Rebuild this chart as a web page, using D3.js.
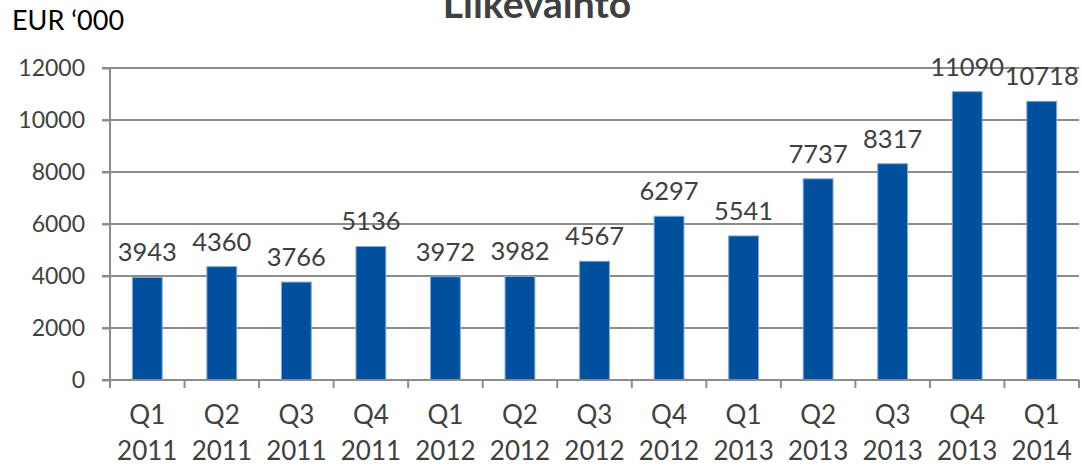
<!DOCTYPE html>
<html>
<head>
<meta charset="utf-8">
<script src="https://cdn.jsdelivr.net/npm/d3@7.9.0/dist/d3.min.js"></script>
<style>
  body { margin: 0; background: #fff; }
  svg { display: block; font-family: Lato, "Open Sans", sans-serif; }
</style>
</head>
<body>
<div id="chart"></div>
<script>
// data
const quarters = ['Q1', 'Q2', 'Q3', 'Q4', 'Q1', 'Q2', 'Q3', 'Q4', 'Q1', 'Q2', 'Q3', 'Q4', 'Q1'];
const years = ['2011', '2011', '2011', '2011', '2012', '2012', '2012', '2012', '2013', '2013', '2013', '2013', '2014'];
const revenue = [3943, 4360, 3766, 5136, 3972, 3982, 4567, 6297, 5541, 7737, 8317, 11090, 10718];
const yTicks = [0, 2000, 4000, 6000, 8000, 10000, 12000];

const data = revenue.map((v, i) => ({ key: i, q: quarters[i], year: years[i], value: v }));

const width = 1082;
const height = 466;
const margin = { top: 68, right: 3, bottom: 86, left: 110 };

const svg = d3.select('#chart')
    .append('svg')
    .attr('width', width)
    .attr('height', height);

const xScale = d3.scaleBand()
    .domain(data.map(d => d.key))
    .range([margin.left, width - margin.right])
    .paddingInner(0.6)
    .paddingOuter(0.3);

const yScale = d3.scaleLinear()
    .domain([0, 12000])
    .range([height - margin.bottom, margin.top]);

const textColor = '#404040';
const gridColor = '#8c8c8c';

// gridlines
svg.append('g')
    .attr('class', 'gridlines')
    .selectAll('line')
    .data(yTicks.filter(t => t > 0))
    .enter()
    .append('line')
    .attr('x1', margin.left - 8)
    .attr('x2', width - margin.right)
    .attr('y1', d => yScale(d))
    .attr('y2', d => yScale(d))
    .attr('stroke', gridColor)
    .attr('stroke-width', 2);

// y axis
const yAxis = svg.append('g')
    .attr('transform', `translate(${margin.left}, 0)`)
    .call(d3.axisLeft(yScale).tickValues(yTicks).tickFormat(d3.format('d')).tickSize(8).tickPadding(17));
yAxis.select('.domain').attr('stroke', gridColor).attr('stroke-width', 2).attr('d', `M0,${yScale(0)}V${yScale(12000)}`);
yAxis.selectAll('.tick line').attr('stroke', gridColor).attr('stroke-width', 2);
yAxis.selectAll('.tick text')
    .attr('fill', textColor)
    .attr('font-size', '23px')
    .attr('font-family', 'Lato, "Open Sans", sans-serif');

// bars
svg.append('g')
    .attr('class', 'bars')
    .selectAll('rect')
    .data(data)
    .enter()
    .append('rect')
    .attr('x', d => xScale(d.key))
    .attr('y', d => yScale(d.value))
    .attr('width', xScale.bandwidth())
    .attr('height', d => yScale(0) - yScale(d.value))
    .attr('fill', '#00509e')
    .attr('stroke', '#7fa8d8')
    .attr('stroke-width', 1);

// x axis line + category ticks
const catWidth = (width - margin.right - margin.left) / data.length;
svg.append('line')
    .attr('x1', margin.left - 8)
    .attr('x2', width - margin.right)
    .attr('y1', yScale(0))
    .attr('y2', yScale(0))
    .attr('stroke', gridColor)
    .attr('stroke-width', 2);

svg.append('g')
    .selectAll('line')
    .data(d3.range(data.length + 1))
    .enter()
    .append('line')
    .attr('x1', i => margin.left + i * catWidth)
    .attr('x2', i => margin.left + i * catWidth)
    .attr('y1', yScale(0))
    .attr('y2', yScale(0) + 8)
    .attr('stroke', gridColor)
    .attr('stroke-width', 2);

const xLabels = svg.append('g')
    .selectAll('text')
    .data(data)
    .enter()
    .append('text')
    .attr('text-anchor', 'middle')
    .attr('fill', textColor)
    .attr('font-size', '26px');
xLabels.append('tspan')
    .attr('x', d => xScale(d.key) + xScale.bandwidth() / 2)
    .attr('y', 424)
    .text(d => d.q);
xLabels.append('tspan')
    .attr('x', d => xScale(d.key) + xScale.bandwidth() / 2)
    .attr('y', 460)
    .text(d => d.year);

// value labels
svg.append('g')
    .selectAll('text')
    .data(data)
    .enter()
    .append('text')
    .attr('x', d => xScale(d.key) + xScale.bandwidth() / 2)
    .attr('y', d => yScale(d.value) - 16)
    .attr('text-anchor', 'middle')
    .attr('fill', textColor)
    .attr('font-size', '25.5px')
    .text(d => d.value);

// title and unit
svg.append('text')
    .attr('x', 537)
    .attr('y', 18)
    .attr('text-anchor', 'middle')
    .attr('fill', textColor)
    .attr('font-size', '39px')
    .attr('font-weight', 'bold')
    .text('Liikevaihto');

svg.append('text')
    .attr('x', 12)
    .attr('y', 30)
    .attr('fill', '#000')
    .attr('font-size', '27px')
    .text('EUR ‘000');
</script>
</body>
</html>
